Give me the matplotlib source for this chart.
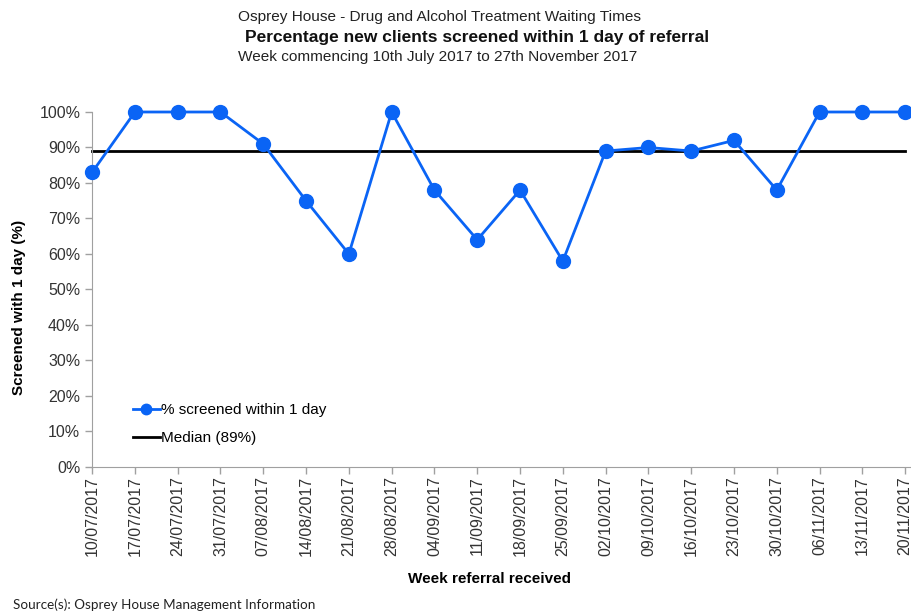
import matplotlib.pyplot as plt
import matplotlib.ticker as mtick

plt.rcParams['font.family'] = ['Liberation Sans', 'DejaVu Sans']

weeks = ['10/07/2017', '17/07/2017', '24/07/2017', '31/07/2017', '07/08/2017',
         '14/08/2017', '21/08/2017', '28/08/2017', '04/09/2017', '11/09/2017',
         '18/09/2017', '25/09/2017', '02/10/2017', '09/10/2017', '16/10/2017',
         '23/10/2017', '30/10/2017', '06/11/2017', '13/11/2017', '20/11/2017']
screened = [83, 100, 100, 100, 91, 75, 60, 100, 78, 64,
            78, 58, 89, 90, 89, 92, 78, 100, 100, 100]
median = 89

fig = plt.figure(figsize=(9.12, 6.12), dpi=100)
ax = fig.add_axes([0.101, 0.237, 0.899, 0.58])

x = list(range(len(weeks)))
ax.plot(x, [median] * len(x), color='black', lw=2, label='Median (89%)',
        zorder=2, clip_on=False)
ax.plot(x, screened, color='#0a64f5', lw=2, marker='o', markersize=10,
        label='% screened within 1 day', zorder=3, clip_on=False)

ax.set_xlim(0, 19.16)
ax.set_ylim(0, 100)
ax.set_yticks(range(0, 101, 10))
ax.yaxis.set_major_formatter(mtick.FuncFormatter(lambda v, p: '%d%%' % v))
ax.set_xticks(x)
ax.set_xticklabels(weeks, rotation=90)
ax.tick_params(axis='both', labelsize=11.5, colors='#a0a0a0', labelcolor='#333333',
               length=5, width=1)
ax.tick_params(axis='x', pad=1.5)

for s in ['top', 'right']:
    ax.spines[s].set_visible(False)
for s in ['left', 'bottom']:
    ax.spines[s].set_color('#a0a0a0')

ax.set_ylabel('Screened with 1 day (%)', fontsize=11, fontweight='bold')
ax.yaxis.set_label_coords(-0.081, 0.448)
ax.set_xlabel('Week referral received', fontsize=11, fontweight='bold')
ax.xaxis.set_label_coords(0.485, -0.296)

h, l = ax.get_legend_handles_labels()
ax.legend(h[::-1], l[::-1], loc='lower left', bbox_to_anchor=(0.033, 0.022),
          frameon=False, fontsize=11, handlelength=1.75, handletextpad=0.1,
          labelspacing=0.95, markerscale=0.75)

fig.text(0.482, 0.972, 'Osprey House - Drug and Alcohol Treatment Waiting Times',
         ha='center', va='center', fontsize=11.1, color='#222222')
fig.text(0.523, 0.939, 'Percentage new clients screened within 1 day of referral',
         ha='center', va='center', fontsize=12.5, fontweight='bold', color='#111111')
fig.text(0.48, 0.907, 'Week commencing 10th July 2017 to 27th November 2017',
         ha='center', va='center', fontsize=11.1, color='#222222')
fig.text(0.014, 0.012, 'Source(s): Osprey House Management Information',
         ha='left', va='center', fontsize=9.7, color='#222222', family='Lato')

fig.savefig('out.png', dpi=100)
